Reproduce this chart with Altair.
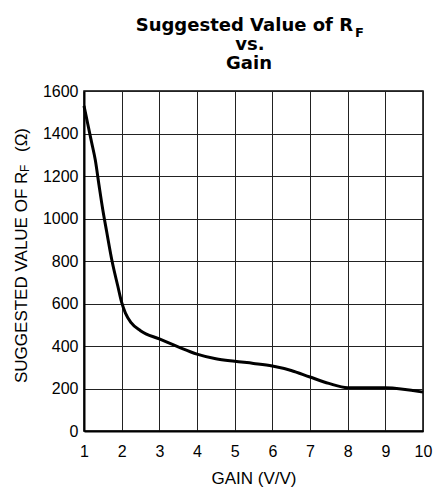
import altair as alt
import pandas as pd

# ---- data ----
gain = [1.0, 1.1, 1.2, 1.3, 1.4, 1.5, 1.6, 1.75, 1.9, 2.0, 2.1, 2.25, 2.5,
        3.0, 3.5, 4.0, 4.5, 5.0, 5.5, 6.0, 6.5, 7.0, 7.5, 8.0, 9.0, 10.0]
rf = [1530, 1445, 1360, 1275, 1155, 1040, 940, 795, 680, 605, 555, 510, 472,
      433, 396, 362, 340, 328, 318, 306, 285, 254, 224, 204, 203, 183]

x_ticks = list(range(1, 11))
y_ticks = list(range(0, 1601, 200))

title_main = "Suggested Value of R"
title_sub = "F"
title_line2 = "vs."
title_line3 = "Gain"
ytitle_main = "SUGGESTED VALUE OF R"
ytitle_sub = "F"
ytitle_unit = "(Ω)"
xtitle = "GAIN (V/V)"

FONT = "Liberation Sans"
TFONT = "DejaVu Sans"
W, H = 339, 340

df = pd.DataFrame({"gain": gain, "rf": rf})

line = alt.Chart(df).mark_line(color="black", strokeWidth=3, interpolate="monotone").encode(
    x=alt.X("gain:Q",
            scale=alt.Scale(domain=[1, 10], nice=False, zero=False),
            axis=alt.Axis(values=x_ticks, title=xtitle, ticks=False, labelPadding=12,
                          format="d", labelFontSize=16, titleFontSize=17,
                          titleFontWeight="normal", titleBaseline="alphabetic",
                          titleY=52, labelFlush=False)),
    y=alt.Y("rf:Q",
            scale=alt.Scale(domain=[0, 1600], nice=False),
            axis=alt.Axis(values=y_ticks, title=None, ticks=False, labelPadding=6,
                          format="d", labelFontSize=16)),
)


def txt(s, x, y, size, weight="normal", align="left", angle=0, font=FONT):
    kw = dict(font=font, fontSize=size, fontWeight=weight, align=align,
              baseline="alphabetic", color="black")
    if angle:
        kw["angle"] = angle
    return alt.Chart(pd.DataFrame({"t": [s]})).mark_text(**kw).encode(
        text="t:N", x=alt.value(x), y=alt.value(y))


texts = [
    txt(title_main, 269, -60, 18, "bold", "right", font=TFONT),
    txt(title_sub, 271, -54, 13, "bold", "left", font=TFONT),
    txt(title_line2, 166, -41, 18, "bold", "center", font=TFONT),
    txt(title_line3, 165, -22, 18, "bold", "center", font=TFONT),
    txt(ytitle_main, -57, 292, 17, "normal", "left", 270),
    txt(ytitle_sub, -55, 81, 12, "normal", "left", 270),
    txt(ytitle_unit, -57, 61, 17, "normal", "left", 270),
]

chart = alt.layer(line, *texts).properties(
    width=W, height=H,
    autosize=alt.AutoSizeParams(type="none"),
    padding={"left": 84, "top": 91, "right": 10, "bottom": 56},
    background="white",
).configure_view(
    stroke="black", strokeWidth=1.5
).configure_axis(
    labelFont=FONT, titleFont=FONT, labelColor="black", titleColor="black",
    domainColor="black", domainWidth=2, gridColor="#222222", gridWidth=1,
    gridOpacity=1,
)

chart.save("out.html", embed_options={"renderer": "svg", "actions": False})
